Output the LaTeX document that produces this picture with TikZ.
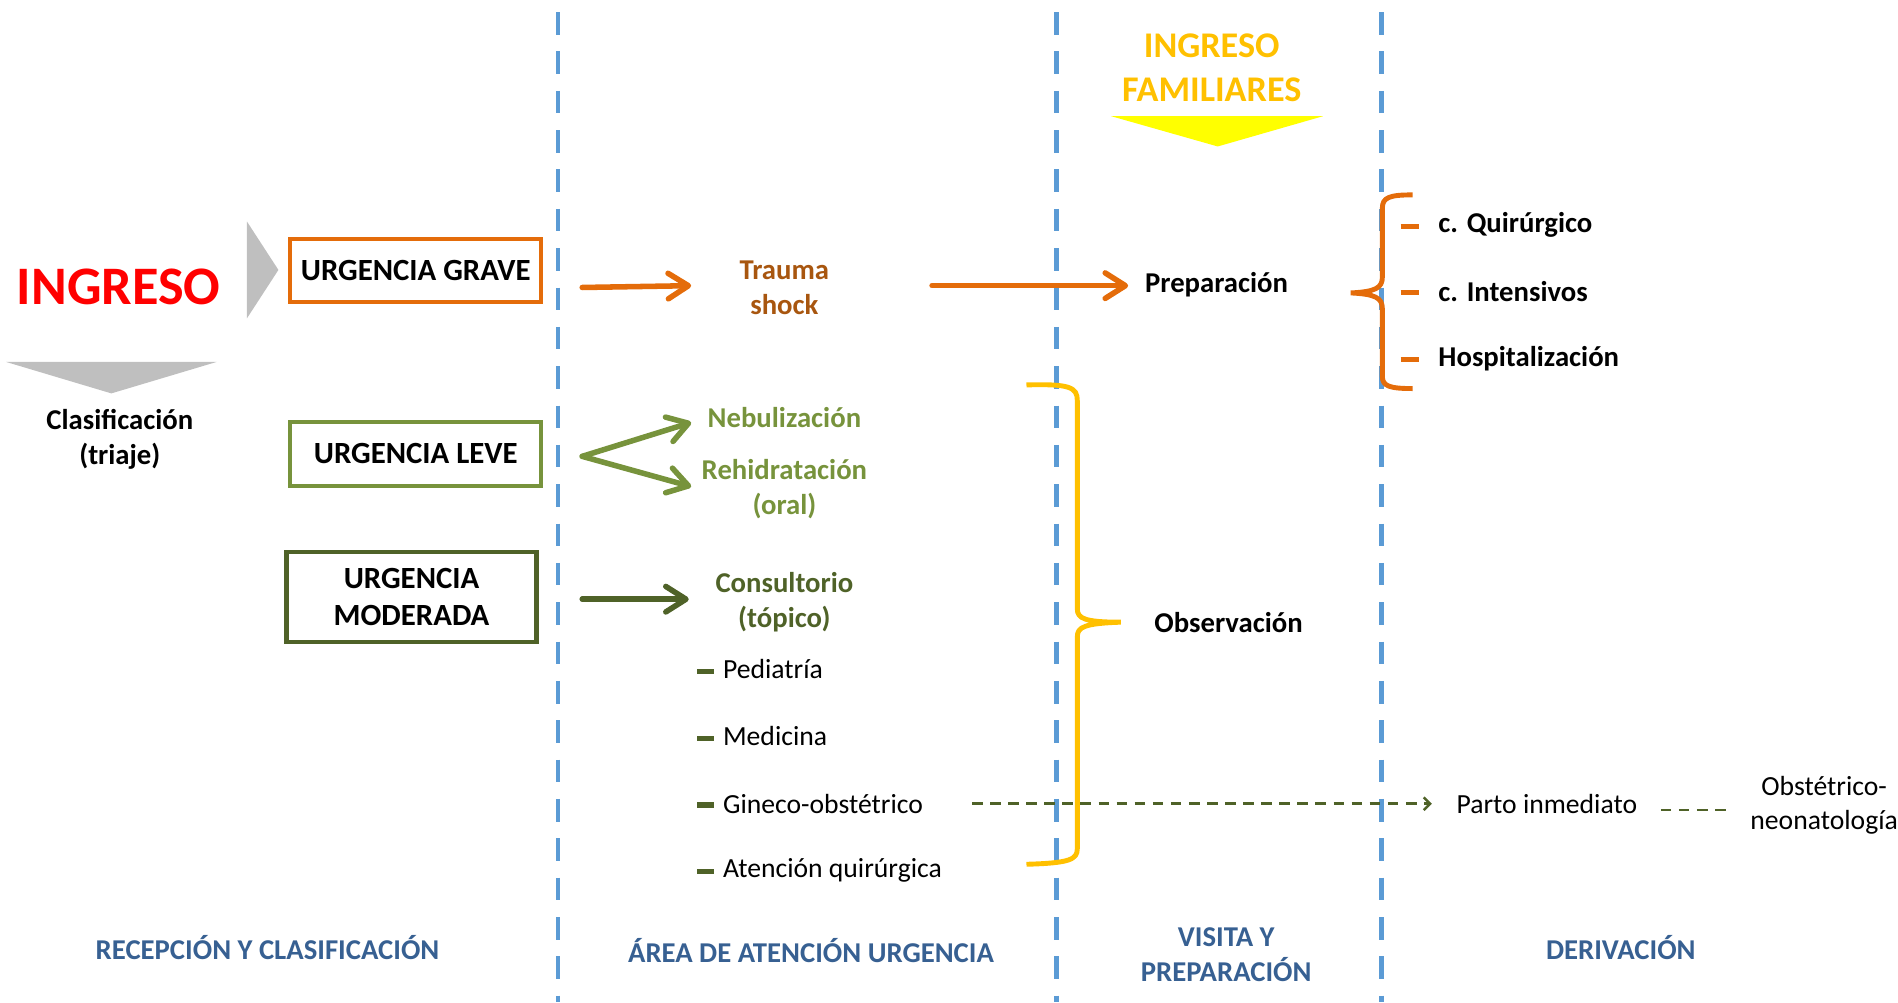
\documentclass[tikz,border=0pt]{standalone}
\usepackage{fontspec}
\setmainfont{Carlito}
\usepackage{tikz}
\usetikzlibrary{arrows.meta}
\definecolor{sepblue}{HTML}{5B9BD5}
\definecolor{hdrblue}{HTML}{376092}
\definecolor{graveor}{HTML}{E46C0A}
\definecolor{traumabr}{HTML}{A8560F}
\definecolor{leveg}{HTML}{77933C}
\definecolor{modg}{HTML}{4F6228}
\definecolor{famgold}{HTML}{FFC000}
\definecolor{famyel}{HTML}{FFFF00}
\definecolor{trigray}{HTML}{BFBFBF}

\begin{document}
\begin{tikzpicture}[x=0.02cm,y=-0.02cm,
  lbl/.style={font=\fontsize{13.5}{16.5}\selectfont\bfseries,align=center},
  item/.style={font=\fontsize{13}{16}\selectfont,anchor=west,inner sep=0pt},
  bitem/.style={lbl,anchor=west,inner sep=0pt},
  ubox/.style={draw,line width=2pt,minimum width=4.15cm,minimum height=1.04cm,
    font=\fontsize{14.5}{17.5}\selectfont\bfseries,align=center},
  hdr/.style={lbl,text=hdrblue},
  sep/.style={draw=sepblue,line width=2.3pt,dash pattern=on 10.6pt off 7.9pt},
  arr/.style={line width=2.6pt,line cap=round,-{Straight Barb[length=9.5pt,width=12pt,round]}},
  dasharr/.style={draw=modg,line width=1.2pt,dash pattern=on 5pt off 3.5pt,-{Straight Barb[length=3pt,width=6pt]}},
  bar/.style={line width=2.4pt}]
  \useasboundingbox (0,0) rectangle (1568,828);
  \draw[sep] (461,10) -- (461,828);
  \draw[sep] (873,10) -- (873,828);
  \draw[sep] (1141,10) -- (1141,828);

  \node[font=\fontsize{25.5}{30}\selectfont\bfseries,text=red] (ingreso) at (98,237) {INGRESO};
  \fill[trigray] (204,183) -- (230,223) -- (204,263) -- cycle;
  \fill[trigray] (5,299) -- (179,299) -- (92,325) -- cycle;
  \node[lbl] (clasif) at (99,363) {Clasificación\\(triaje)};

  \node[ubox,draw=graveor] (grave) at (343.5,223.5) {URGENCIA GRAVE};
  \node[ubox,draw=leveg,minimum height=1.06cm] (leve) at (343.5,375) {URGENCIA LEVE};
  \node[ubox,draw=modg,minimum width=4.13cm,minimum height=1.49cm] (moderada) at (340,493) {URGENCIA\\MODERADA};

  \node[lbl,text=traumabr] (trauma) at (648,238) {Trauma\\shock};
  \node[lbl,text=leveg] (nebul) at (648,345) {Nebulización};
  \node[lbl,text=leveg] (rehid) at (648,404) {Rehidratación\\(oral)};
  \node[lbl,text=modg] (consult) at (648,497.5) {Consultorio\\(tópico)};

  \node[item] (pedi) at (597,553) {Pediatría};
  \node[item] (medi) at (597,608) {Medicina};
  \node[item] (gine) at (597,664) {Gineco-obstétrico};
  \node[item] (atenq) at (597,719) {Atención quirúrgica};
  \draw[bar,modg] ([shift={(-21,2)}]pedi.west) -- ++(14,0);
  \draw[bar,modg] ([shift={(-21,2)}]medi.west) -- ++(14,0);
  \draw[bar,modg] ([shift={(-21,1)}]gine.west) -- ++(14,0);
  \draw[bar,modg] ([shift={(-21,1)}]atenq.west) -- ++(14,0);

  \node[font=\fontsize{17}{20.4}\selectfont\bfseries,text=famgold,align=center] (famil) at (1001,56) {INGRESO\\FAMILIARES};
  \fill[famyel] (918,96) -- (1093,96) -- (1006,121) -- cycle;
  \node[lbl] (prep) at (1005,235) {Preparación};
  \node[lbl] (obs) at (1015,514) {Observación};

  \draw[arr,graveor] ([shift={(32,14)}]grave.east) -- ([shift={(-77,-2)}]trauma.center);
  \draw[arr,graveor] ([shift={(122,-2)}]trauma.center) -- ([shift={(-73,1)}]prep.center);
  \draw[arr,leveg] ([shift={(32,2)}]leve.east) -- ([shift={(-77,4)}]nebul.center);
  \draw[arr,leveg] ([shift={(32,2)}]leve.east) -- ([shift={(-77,-2)}]rehid.center);
  \draw[arr,modg] ([shift={(36,2)}]moderada.east) -- ([shift={(-79,-2.5)}]consult.center);

  \draw[famgold,line width=2.3pt] (848,318) .. controls (884,317) and (890,320) .. (890,331)
    -- (890,503) .. controls (890,511) and (896,514) .. (926,514)
    .. controls (896,515) and (890,518) .. (890,526)
    -- (890,701) .. controls (890,710) and (884,713) .. (848,714);

  \draw[graveor,line width=2.3pt] (1167,161) .. controls (1148,161) and (1142,163) .. (1142,172)
    -- (1142,229) .. controls (1142,238) and (1136,241) .. (1116,242)
    .. controls (1136,243) and (1142,246) .. (1142,255)
    -- (1142,311) .. controls (1142,319) and (1148,321) .. (1167,321);
  \node[bitem] (quir) at (1188,186) {c. Quirúrgico};
  \node[bitem] (inten) at (1188,241) {c. Intensivos};
  \node[bitem] (hosp) at (1188,296) {Hospitalización};
  \draw[bar,graveor] ([shift={(-31,1)}]quir.west) -- ++(15,0);
  \draw[bar,graveor] ([shift={(-31,1)}]inten.west) -- ++(15,0);
  \draw[bar,graveor] ([shift={(-31,1)}]hosp.west) -- ++(15,0);

  \node[item] (parto) at (1203,664) {Parto inmediato};
  \node[font=\fontsize{13}{15.9}\selectfont,align=center] (obsneo) at (1507,665) {Obstétrico-\\neonatología};
  \draw[dasharr] ([shift={(206,0)}]gine.west) -- ([shift={(-20,0)}]parto.west);
  \draw[draw=modg,line width=1.2pt,dash pattern=on 5pt off 3.5pt] ([shift={(169,5)}]parto.west) -- ([shift={(-80,4)}]obsneo.center);

  \node[hdr] (recep) at (221,783) {RECEPCIÓN Y CLASIFICACIÓN};
  \node[hdr] (area) at (670,785) {ÁREA DE ATENCIÓN URGENCIA};
  \node[hdr] (visita) at (1013,789) {VISITA Y\\PREPARACIÓN};
  \node[hdr] (deriv) at (1339,783) {DERIVACIÓN};
\end{tikzpicture}
\end{document}
